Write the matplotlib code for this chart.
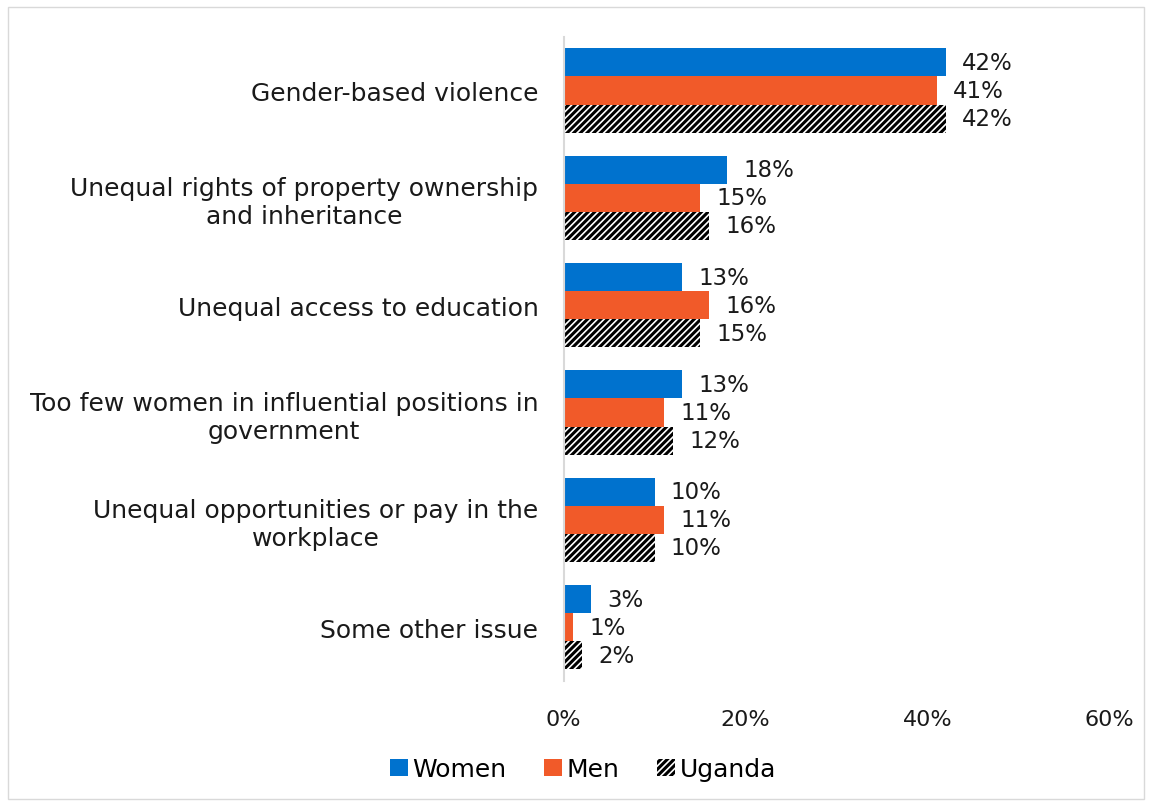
import numpy as np
import matplotlib
matplotlib.use('Agg')
import matplotlib.pyplot as plt

# Data
categories = ['Gender-based violence',
              'Unequal rights of property ownership\nand inheritance',
              'Unequal access to education',
              'Too few women in influential positions in\ngovernment',
              'Unequal opportunities or pay in the\nworkplace',
              'Some other issue']
women = [42, 18, 13, 13, 10, 3]
men = [41, 15, 16, 11, 11, 1]
uganda = [42, 16, 15, 12, 10, 2]

plt.rcParams['font.family'] = ['DejaVu Sans']
plt.rcParams['hatch.linewidth'] = 2.2

fig = plt.figure(figsize=(11.5, 8.04), dpi=100)
ax = fig.add_axes([0.490, 0.152, 0.475, 0.801])

# frame around the figure
fig.patches.append(plt.Rectangle((0.007, 0.005), 0.988, 0.985, transform=fig.transFigure,
                                 fill=False, edgecolor='#d9d9d9', linewidth=1))

y = np.arange(len(categories))
h = 0.262

b1 = ax.barh(y - h, women, height=h, color='#0072CE', label='Women')
b2 = ax.barh(y, men, height=h, color='#F15A29', label='Men')
b3 = ax.barh(y + h, uganda, height=h, color='white', edgecolor='black',
             hatch='/////', linewidth=0, label='Uganda')

for bars, vals in [(b1, women), (b2, men), (b3, uganda)]:
    for bar, v in zip(bars, vals):
        ax.text(bar.get_width() + 1.8, bar.get_y() + bar.get_height() / 2, f'{v}%',
                va='center', ha='left', fontsize=16.5, color='#1a1a1a')

ax.set_xlim(0, 60)
ax.set_ylim(len(categories) - 0.5, -0.5)
ax.set_xticks([0, 20, 40, 60])
ax.set_xticklabels(['0%', '20%', '40%', '60%'], fontsize=16, color='#1a1a1a')
ax.set_yticks(y)
ax.set_yticklabels(categories, fontsize=18, color='#1a1a1a', multialignment='center')
ax.tick_params(axis='both', length=0)
ax.tick_params(axis='x', pad=20)
ax.tick_params(axis='y', pad=18)
for s in ['top', 'right', 'bottom']:
    ax.spines[s].set_visible(False)
ax.spines['left'].set_color('#d9d9d9')
ax.spines['left'].set_linewidth(1.5)

fig.legend(handles=[b1, b2, b3], loc='center', bbox_to_anchor=(0.507, 0.042), ncol=3,
           frameon=False, fontsize=18, handlelength=0.7, handleheight=0.7,
           handletextpad=0.2, columnspacing=1.5)

plt.savefig('out.png', dpi=100)
